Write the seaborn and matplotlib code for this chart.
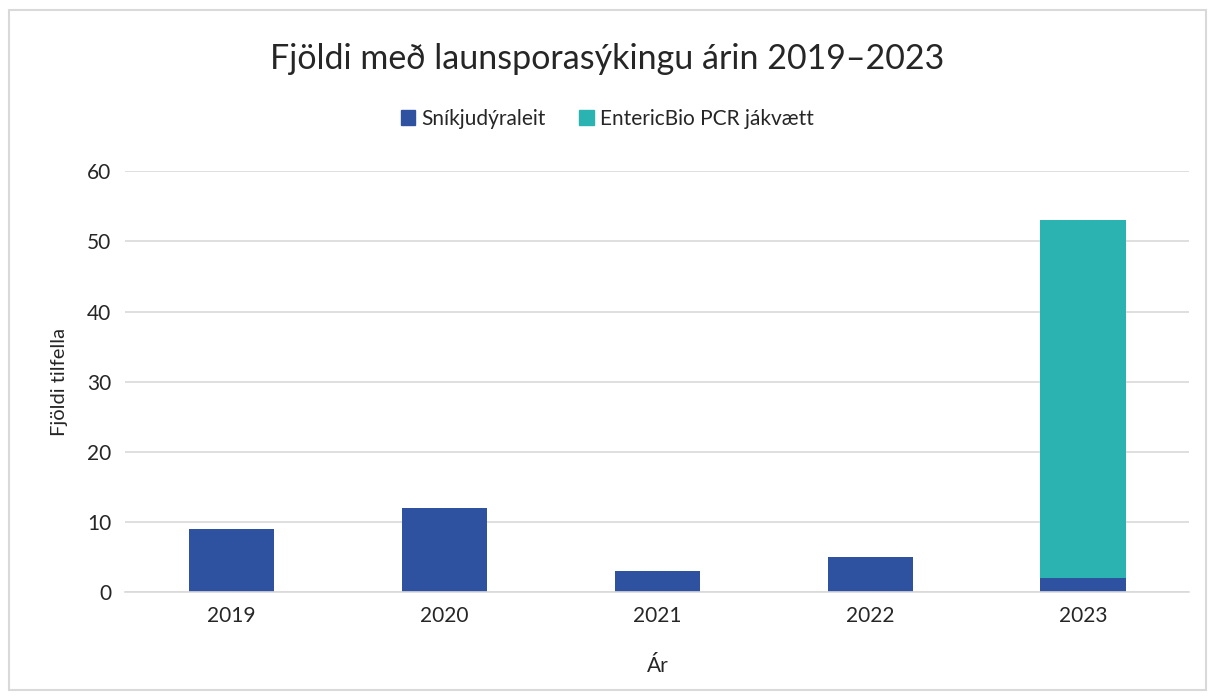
import pandas as pd
import matplotlib.pyplot as plt
import seaborn as sns
from matplotlib.patches import Patch, Rectangle

# gögn lesin af myndinni
ar = ["2019", "2020", "2021", "2022", "2023"]
snikjudyraleit = [9, 12, 3, 5, 2]
enteric_pcr = [0, 0, 0, 0, 51]

blar = "#2F52A0"
graenn = "#2AB3B1"

veri = pd.DataFrame({"ar": ar, "snik": snikjudyraleit, "pcr": enteric_pcr})

sns.set_style("white")
plt.rcParams["font.family"] = ["Lato", "DejaVu Sans"]

fig = plt.figure(figsize=(12.15, 6.99), dpi=100)
ax = fig.add_axes([0.103, 0.153, 0.876, 0.602])

sns.barplot(data=veri, x="ar", y="snik", color=blar, width=0.4, saturation=1,
            linewidth=0, ax=ax)
sns.barplot(data=veri, x="ar", y="pcr", color=graenn, width=0.4, saturation=1,
            linewidth=0, bottom=veri["snik"], ax=ax)

ax.set_ylim(0, 60)
ax.set_yticks(range(0, 61, 10))
ax.grid(axis="y", color="#D9D9D9", linewidth=1.2)
ax.set_axisbelow(True)
for s in ["top", "right", "left"]:
    ax.spines[s].set_visible(False)
ax.spines["bottom"].set_color("#D9D9D9")
ax.spines["bottom"].set_linewidth(1.2)
ax.tick_params(length=0, labelsize=15, pad=10)
ax.set_xlabel("Ár", fontsize=15, labelpad=22)
ax.set_ylabel("Fjöldi tilfella", fontsize=14.5, labelpad=14)

fig.text(0.5, 0.915, "Fjöldi með launsporasýkingu árin 2019–2023", ha="center",
         va="center", fontsize=24.5)

handles = [Patch(color=blar, label="Sníkjudýraleit"),
           Patch(color=graenn, label="EntericBio PCR jákvætt")]
fig.legend(handles=handles, loc="center", bbox_to_anchor=(0.5, 0.83), ncol=2,
           frameon=False, fontsize=15, handlelength=0.7, handleheight=0.7,
           handletextpad=0.3, columnspacing=1.6)

fig.patches.append(Rectangle((0.007, 0.013), 0.986, 0.973, transform=fig.transFigure,
                             fill=False, edgecolor="#D9D9D9", linewidth=1.5))

fig.savefig("out.png", dpi=100)
